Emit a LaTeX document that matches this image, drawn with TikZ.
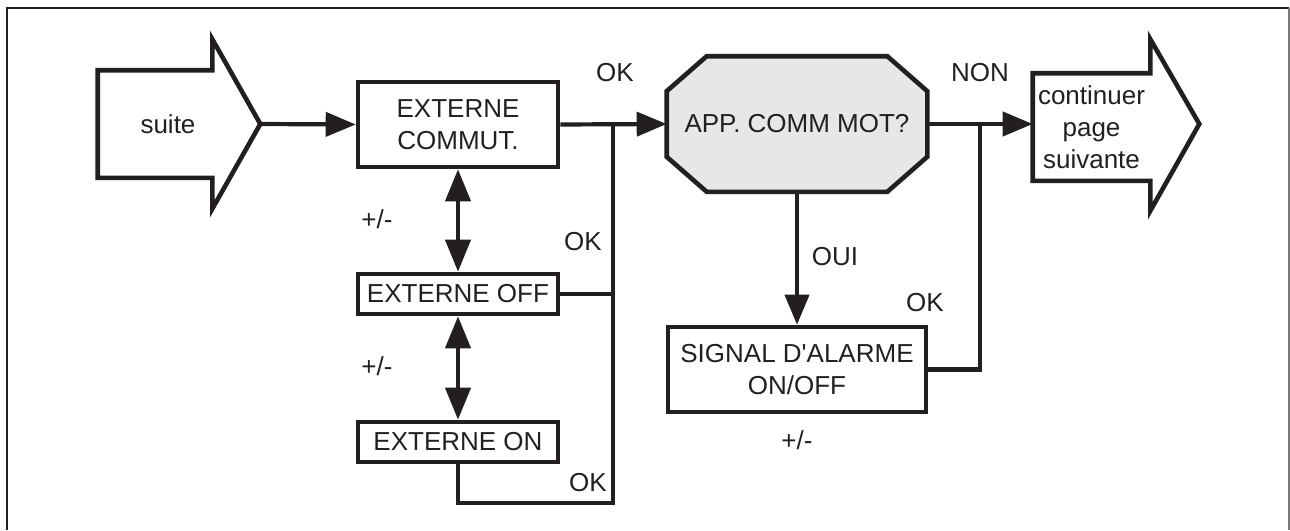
\documentclass[tikz,border=0pt]{standalone}
\usepackage{fontspec}
\setmainfont{Liberation Sans}
\usepackage{tikz}
\usetikzlibrary{arrows.meta, positioning, calc, backgrounds}
\definecolor{myink}{RGB}{35,31,32}
\definecolor{mygrey}{RGB}{230,231,232}
\definecolor{myframe}{RGB}{120,120,120}
\tikzset{
  box/.style={rectangle, draw=myink, line width=2.3pt, align=center,
    inner sep=0pt, font=\fontsize{13}{16}\selectfont, text=myink},
  bigbox/.style={box, minimum width=100pt, minimum height=42.5pt},
  flatbox/.style={box, minimum width=100pt, minimum height=20pt},
  shaft/.style={box, draw=none, minimum height=51.5pt},
  lbl/.style={font=\fontsize{13}{16}\selectfont, text=myink, inner sep=0pt},
  arrow/.style={-{Triangle[length=15pt,width=12pt]}, line width=2.1pt, color=myink},
  dblarrow/.style={{Triangle[length=16pt,width=12.5pt]}-{Triangle[length=16pt,width=12.5pt]},
    line width=2.1pt, color=myink},
  line/.style={line width=2.1pt, color=myink},
  blockarrow/.style={line width=2.3pt, draw=myink, line join=miter}
}

\begin{document}
\begin{tikzpicture}[x=0.5pt, y=-0.5pt]
  \useasboundingbox (0,0) rectangle (1290,530);
  % Frame
  \draw[line width=1.3pt, color=myink] (7,530) -- (7,8) -- (1289,8);
  \draw[line width=0.8pt, color=myframe] (1289,8) -- (1289,530);

  % Entry arrow
  \node[shaft, minimum width=55pt] (suite) at (155,124) {\hspace*{13pt}suite};
  \coordinate (suitetip) at ($(suite.east)+(48,0)$);
  \draw[blockarrow] (suite.north east) -- (suite.north west) -- (suite.south west)
    -- (suite.south east) -- ++(0,31) -- (suitetip) -- ($(suite.north east)+(0,-31)$)
    -- cycle;

  % Externe boxes
  \node[bigbox] (commut) at (458,124.5) {EXTERNE\\COMMUT.};
  \node[flatbox] (off) at (458,294) {EXTERNE OFF};
  \node[flatbox] (on) at (458,442) {EXTERNE ON};
  \draw[arrow] (suitetip) -- (commut.west);
  \draw[dblarrow] (commut.south) -- (off.north);
  \draw[dblarrow] (off.south) -- (on.north);

  % Decision
  \node[box, draw=none, minimum width=128pt, minimum height=65.5pt] (app) at (797,124)
    {APP. COMM MOT?};
  \begin{scope}[on background layer]
    \filldraw[blockarrow, fill=mygrey] ([xshift=20pt]app.north west)
      -- ([xshift=-20pt]app.north east) -- ([yshift=-17.5pt]app.north east)
      -- ([yshift=17.5pt]app.south east) -- ([xshift=-20pt]app.south east)
      -- ([xshift=20pt]app.south west) -- ([yshift=17.5pt]app.south west)
      -- ([yshift=-17.5pt]app.north west) -- cycle;
  \end{scope}
  \draw[arrow] (commut.east) -- (app.west);

  % OK returns
  \coordinate (okbot) at (613,503);
  \draw[line] (on.south) |- (okbot) -- (okbot |- commut.east);
  \draw[line] (off.east) -- (off.east -| okbot);

  % Alarm
  \node[bigbox, minimum width=129pt] (signal) at (797,369.5)
    {SIGNAL D\textquotesingle ALARME\\ON/OFF};
  \draw[arrow] (app.south) -- (signal.north);

  % Exit arrow
  \node[shaft, minimum width=56.5pt] (cont) at (1091.5,127) {continuer\\page\\suivante};
  \coordinate (conttip) at ($(cont.east)+(49,-3)$);
  \draw[blockarrow] (cont.north east) -- (cont.north west) -- (cont.south west)
    -- (cont.south east) -- ++(0,30) -- (conttip) -- ($(cont.north east)+(0,-34)$)
    -- cycle;
  \draw[arrow] (app.east) -- (app.east -| cont.west);
  \coordinate (sigjoin) at (980,124);
  \draw[line] (signal.east) -| (sigjoin);

  % Labels
  \node[lbl] (okmain) at (615,73) {OK};
  \node[lbl] (non) at (980,73) {NON};
  \node[lbl] (okoff) at (583,242) {OK};
  \node[lbl] (okon) at (588,483) {OK};
  \node[lbl] (oksig) at (925,303) {OK};
  \node[lbl] (oui) at (835,257) {OUI};
  \node[lbl] (pm1) at (377,219) {+/-};
  \node[lbl] (pm2) at (377,366) {+/-};
  \node[lbl] (pm3) at (797,440) {+/-};
\end{tikzpicture}
\end{document}
